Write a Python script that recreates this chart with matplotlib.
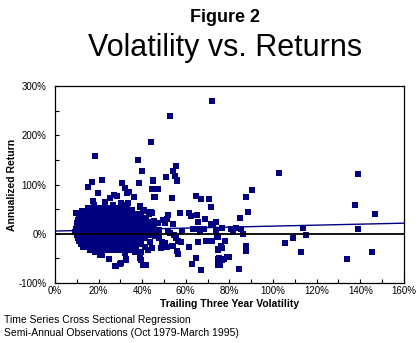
import numpy as np
import matplotlib.pyplot as plt

plt.rcParams['font.family'] = ['Liberation Sans', 'DejaVu Sans']

# 密集区：每一行一个收益率水平，对应若干波动率值（%）
blob_rows = {
    52: [15, 17.5, 20, 22.5, 25, 27, 29.5, 32],
    46: [12.5, 14.5, 16.5, 18.5, 21, 23, 25, 27, 29, 31, 33, 35.5],
    40: [11.5, 13.5, 15.5, 17.5, 19.5, 21.5, 23.5, 25.5, 27.5, 29.5, 31.5, 33.5, 36, 38.5],
    34: [11, 13, 15, 17, 19, 21, 23, 25, 27, 29, 31, 33, 35, 37, 39.5],
    28: [10.5, 12.5, 14.5, 16.5, 18.5, 20.5, 22.5, 24.5, 26.5, 28.5, 30.5, 32.5, 34.5, 36.5, 38.5, 41],
    22: [10, 12, 14, 16, 18, 20, 22, 24, 26, 28, 30, 32, 34, 36, 38, 40, 42.5],
    16: [10.5, 12.5, 14.5, 16.5, 18.5, 20.5, 22.5, 24.5, 26.5, 28.5, 30.5, 32.5, 34.5, 36.5, 38.5, 41],
    10: [9.5, 11.5, 13.5, 15.5, 17.5, 19.5, 21.5, 23.5, 25.5, 27.5, 29.5, 31.5, 33.5, 35.5, 37.5, 40, 43],
    4: [9, 11, 13, 15, 17, 19, 21, 23, 25, 27, 29, 31, 33, 35, 37, 39, 42],
    -2: [10, 12, 14, 16, 18, 20, 22, 24, 26, 28, 30, 32, 34, 36, 38, 40.5, 43.5],
    -8: [10.5, 12.5, 14.5, 16.5, 18.5, 20.5, 22.5, 24.5, 26.5, 28.5, 30.5, 32.5, 34.5, 36.5, 39, 41.5],
    -14: [11, 13, 15, 17, 19, 21, 23, 25, 27, 29, 31, 33, 35, 37, 39.5],
    -20: [12, 14, 16, 18, 20, 22, 24, 26, 28, 30, 32, 34, 36, 38.5],
    -26: [13, 15.5, 18, 20, 22, 24, 26, 28, 30, 32, 34.5, 37],
    -32: [16, 19, 21.5, 24, 26.5, 29, 31.5, 34],
}

# 零散点：(波动率 %, 年化收益 %)
scatter_x = [72.1, 52.7, 43.9, 18.6, 37.9, 40.0, 55.3, 54.2, 54.9, 56.1, 50.8, 45.2, 38.6, 30.9,
             21.7, 17.1, 15.1, 19.6, 32.1, 33.9, 36.4, 44.6, 47.1, 45.7, 53.8, 64.6, 67.1, 70.7,
             71.6, 57.3, 61.4, 62.5, 65.0, 68.8, 74.0, 71.4, 64.5, 63.0, 67.0, 74.9, 74.9, 74.9,
             56.5, 56.0, 41.6, 39.7, 30.1, 32.4, 28.1, 24.8, 21.4, 69.5, 71.9, 65.7,
             102.8, 139.0, 90.2, 87.6, 137.4, 88.6, 146.9, 84.8, 76.7, 68.3, 73.8, 80.8, 83.0,
             85.4, 81.8, 86.2, 113.8, 138.9, 115.0, 74.4, 77.9, 109.3, 105.6, 76.3, 87.6, 87.6,
             75.0, 113.0, 145.2, 133.9, 80.0, 75.2, 77.5, 76.5, 75.6, 84.4,
             45.0, 56.2, 51.7, 44.0, 43.2, 54.0, 65.4, 72.4, 76.6, 63.1, 66.2, 66.5, 58.4, 51.7,
             61.3, 74.6, 74.6, 76.4, 78.7, 40.8, 54.0, 51.5, 49.4,
             35.2, 39.0, 40.8, 36.7, 41.7, 43.6, 41.0, 45.5, 44.3, 49.7, 50.4, 51.5, 47.4, 37.5,
             42.0, 46.3, 47.8, 45.8, 47.8, 48.9, 43.6, 39.0, 41.3, 44.3, 48.5, 42.8, 39.0, 36.7,
             54.7, 55.5, 56.3, 57.8, 53.5, 51.2, 52.7, 50.4,
             44.5, 33.1, 45.3, 26.9, 28.3, 25.2, 22.9, 26.5, 30.1, 32.9, 17.6, 18.0, 33.6, 39.0,
             40.5, 44.3, 9.5, 13.0, 35.9, 37.5, 41.3, 42.8, 44.6, 41.3, 43.6, 45.4,
             20.6, 32.1, 39.0, 39.7, 18.3, 14.5, 24.9, 27.5, 29.8, 32.4, 40.5, 39.0]
scatter_y = [269, 239, 186, 158, 150, 128, 137.6, 127, 118, 109, 114.6, 109, 104, 104,
             109, 105, 95.6, 82, 92, 85, 75, 91.6, 90, 74.6, 73, 77, 70, 70,
             53.7, 42.8, 42.8, 36, 38.7, 29, 24.5, 19, -48.6, -61, -73.6, -50.6, -63, -32,
             -40.5, -35, -63.5, -53, -60, -53, -66, -52, -42.5, -15, -15, -16,
             122.7, 121, 88.8, 74.6, 57.7, 44.8, 40, 33, 12.3, 10, 8, 9.6, 11,
             10, 4, 0, 11.7, 10, -2, -5, -14, -9.3, -19, -25, -24, -35.7,
             -31.6, -38, -37.8, -51, -47, -50, -52, -53, -63.5, -71.6,
             107, 107, 37.4, 43.5, 39.5, 20, 24.5, 18.5, 11, 9, 9, 3, 5.6, 3.6,
             -26, -6, -31, -28, -47, -64, -24, -26, -26,
             48, 56, 48, 39.5, 32.6, 43.5, 26, 26, 21, 28, 22.5, 30, 21, 14.3,
             14.3, 3.6, 7.6, -4.5, -9.3, -16, -16, -19.4, -26, -29.6, -29.6, -33, -41, -36.5,
             -2.5, -9.3, -14.7, -16, -25, -26, 1, -19.4,
             91, 83, 75, 78.7, 76.7, 72, 64, 58.4, 61.8, 58.4, 67, 57.8, 63, 55,
             46.8, 42.8, 42.8, 34.6, 34.6, 28, 31.3, 24.5, 24.5, 13, 7.6, 14.3,
             -43, -39.7, -45, -36.4, -36.4, -26, -52, -65.5, -61, -52, -63.5, -50]

# 回归线端点
reg_x = [0, 160]
reg_y = [5.5, 21.5]

blob_x = [v for r in blob_rows.values() for v in r]
blob_y = [k for k, r in blob_rows.items() for _ in r]

navy = '#000080'
fig = plt.figure(figsize=(4.19, 3.43), dpi=100)
ax = fig.add_axes([0.131, 0.175, 0.833, 0.574])

ax.scatter(blob_x, blob_y, s=16, marker='s', color=navy, linewidths=0, zorder=3)
ax.scatter(scatter_x, scatter_y, s=15, marker='s', color=navy, linewidths=0, zorder=3)
ax.axhline(0, color='black', lw=1.3, zorder=4)
ax.plot(reg_x, reg_y, color=navy, lw=1.0, zorder=4)

ax.set_xlim(0, 160)
ax.set_ylim(-100, 300)
ax.set_xticks(np.arange(0, 161, 20))
ax.set_xticks(np.arange(0, 161, 10), minor=True)
ax.set_yticks(np.arange(-100, 301, 100))
ax.set_yticks(np.arange(-100, 301, 50), minor=True)
ax.set_xticklabels([f'{v}%' for v in range(0, 161, 20)])
ax.set_yticklabels([f'{v}%' for v in range(-100, 301, 100)])
ax.tick_params(which='both', direction='in', length=3, width=0.8, labelsize=7, pad=2)
ax.tick_params(axis='y', pad=6)
for s in ax.spines.values():
    s.set_linewidth(0.9)

ax.set_xlabel('Trailing Three Year Volatility', fontsize=7.5, fontweight='bold', labelpad=2)
ax.set_ylabel('Annualized Return', fontsize=7.5, fontweight='bold', labelpad=1)

fig.text(0.537, 0.95, 'Figure 2', ha='center', va='center', fontsize=13, fontweight='bold')
fig.text(0.537, 0.86, 'Volatility vs. Returns', ha='center', va='center', fontsize=22)
fig.text(0.01, 0.067, 'Time Series Cross Sectional Regression', fontsize=7.5, va='center')
fig.text(0.01, 0.028, 'Semi-Annual Observations (Oct 1979-March 1995)', fontsize=7.5, va='center')

fig.savefig('out.png', dpi=100)
